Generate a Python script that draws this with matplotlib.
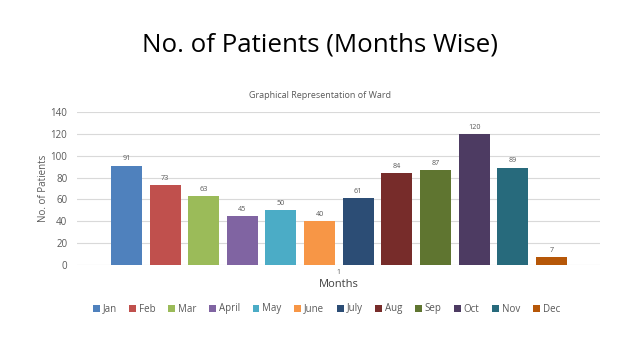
import matplotlib.pyplot as plt

months = ["Jan", "Feb", "Mar", "April", "May", "June", "July", "Aug", "Sep", "Oct", "Nov", "Dec"]
patients = [91, 73, 63, 45, 50, 40, 61, 84, 87, 120, 89, 7]
colors = ["#4F81BD", "#C0504D", "#9BBB59", "#8064A2", "#4BACC6", "#F79646",
          "#2C4D75", "#772C2A", "#5F7530", "#4D3B62", "#276A7C", "#B65708"]

plt.rcParams['font.family'] = ['Open Sans', 'DejaVu Sans']

fig = plt.figure(figsize=(6.4, 3.6), dpi=100)
ax = fig.add_axes([77 / 640, 1 - 265 / 360, 523 / 640, 153 / 360])

fig.text(0.5, 1 - 45 / 360, "No. of Patients (Months Wise)", ha="center", va="center",
         fontsize=18.6, color="black")
fig.text(0.5, 1 - 96 / 360, "Graphical Representation of Ward", ha="center", va="center",
         fontsize=6.5, color="#595959")

for i, (m, v, c) in enumerate(zip(months, patients, colors)):
    ax.bar(i, v, width=0.8, color=c, label=m, zorder=3)
    ax.text(i, v + 3, str(v), ha="center", va="bottom", fontsize=5.2, color="#595959")

ax.set_xlim(-1.28, 12.26)
ax.set_ylim(0, 140)
ax.set_yticks(range(0, 141, 20))
ax.set_xticks([5.5])
ax.set_xticklabels(["1"])
ax.tick_params(axis="x", length=0, labelsize=5, colors="#595959", pad=3)
ax.tick_params(axis="y", length=0, labelsize=7, colors="#595959", pad=7)
ax.grid(axis="y", color="#D9D9D9", linewidth=0.8, zorder=0)
for s in ax.spines.values():
    s.set_visible(False)

ax.set_ylabel("No. of Patients", fontsize=7, color="#595959", labelpad=1)
ax.set_xlabel("Months", fontsize=8, color="#404040", labelpad=2)

fig.legend(loc="center", bbox_to_anchor=(0.51, 1 - 309 / 360), ncol=12, frameon=False,
           fontsize=7, handlelength=0.7, handleheight=0.7, handletextpad=0.3,
           columnspacing=1.3, labelcolor="#595959")

fig.savefig("out.png", dpi=100)
